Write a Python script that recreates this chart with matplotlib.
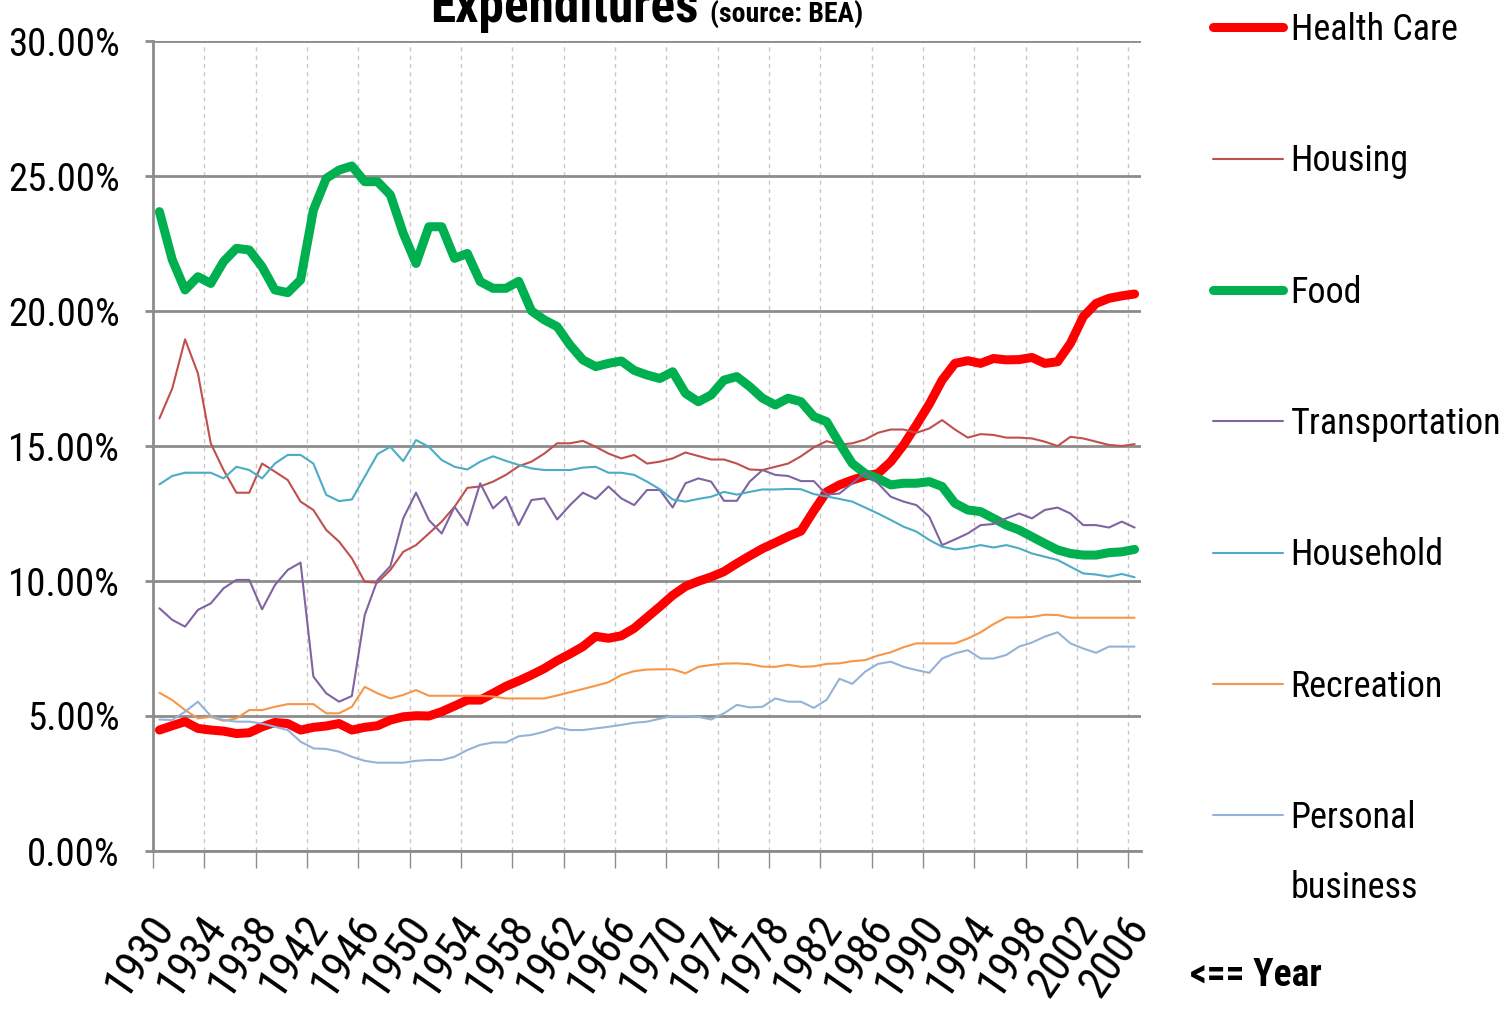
import matplotlib
matplotlib.use('Agg')
import matplotlib.pyplot as plt
from matplotlib import font_manager
from matplotlib.ticker import FixedLocator, FuncFormatter
from matplotlib.transforms import ScaledTranslation

years = list(range(1930, 2007))

health_care = [4.48, 4.64, 4.79, 4.54, 4.48, 4.44, 4.35, 4.38, 4.60, 4.76,
               4.72, 4.48, 4.58, 4.63, 4.72, 4.48, 4.58, 4.64, 4.85, 4.97,
               5.01, 5.00, 5.16, 5.37, 5.59, 5.59, 5.84, 6.10, 6.30, 6.52,
               6.76, 7.05, 7.30, 7.57, 7.95, 7.88, 7.97, 8.25, 8.65, 9.05,
               9.47, 9.80, 9.99, 10.15, 10.35, 10.65, 10.93, 11.20, 11.42, 11.65,
               11.85, 12.60, 13.30, 13.56, 13.74, 13.89, 13.98, 14.42, 15.04, 15.78,
               16.55, 17.44, 18.06, 18.16, 18.06, 18.24, 18.19, 18.20, 18.28, 18.06,
               18.12, 18.80, 19.79, 20.28, 20.47, 20.56, 20.63]

housing = [16.02, 17.13, 18.95, 17.69, 15.10, 14.11, 13.27, 13.27, 14.35, 14.05,
           13.74, 12.94, 12.63, 11.89, 11.46, 10.84, 9.97, 9.94, 10.41, 11.08,
           11.33, 11.76, 12.20, 12.75, 13.45, 13.50, 13.68, 13.93, 14.25, 14.42,
           14.72, 15.10, 15.10, 15.19, 14.97, 14.72, 14.54, 14.67, 14.35, 14.42,
           14.54, 14.76, 14.63, 14.50, 14.50, 14.35, 14.13, 14.11, 14.23, 14.35,
           14.62, 14.95, 15.18, 15.05, 15.10, 15.24, 15.49, 15.61, 15.61, 15.49,
           15.65, 15.96, 15.61, 15.31, 15.44, 15.41, 15.31, 15.31, 15.28, 15.16,
           15.00, 15.34, 15.28, 15.16, 15.04, 15.00, 15.07]

food = [23.68, 21.90, 20.78, 21.27, 21.02, 21.83, 22.32, 22.26, 21.64, 20.78,
        20.68, 21.15, 23.74, 24.91, 25.22, 25.37, 24.79, 24.79, 24.30, 22.88,
        21.76, 23.12, 23.12, 21.95, 22.13, 21.09, 20.84, 20.84, 21.10, 20.00,
        19.67, 19.42, 18.74, 18.19, 17.94, 18.06, 18.15, 17.80, 17.63, 17.50,
        17.75, 16.95, 16.64, 16.89, 17.44, 17.57, 17.20, 16.77, 16.52, 16.77,
        16.64, 16.09, 15.90, 15.10, 14.35, 13.98, 13.80, 13.56, 13.62, 13.62,
        13.68, 13.50, 12.88, 12.63, 12.57, 12.32, 12.07, 11.89, 11.64, 11.39,
        11.15, 11.02, 10.96, 10.96, 11.05, 11.08, 11.17]

transportation = [8.99, 8.56, 8.31, 8.93, 9.17, 9.73, 10.04, 10.04, 8.95, 9.85,
                  10.41, 10.68, 6.46, 5.84, 5.53, 5.74, 8.74, 10.04, 10.55, 12.32,
                  13.27, 12.26, 11.76, 12.75, 12.07, 13.62, 12.69, 13.12, 12.07, 13.00,
                  13.06, 12.28, 12.81, 13.27, 13.04, 13.50, 13.06, 12.81, 13.37, 13.37,
                  12.72, 13.62, 13.80, 13.68, 12.97, 12.97, 13.68, 14.11, 13.93, 13.89,
                  13.70, 13.70, 13.20, 13.24, 13.62, 14.00, 13.62, 13.12, 12.94, 12.81,
                  12.38, 11.33, 11.54, 11.76, 12.07, 12.11, 12.32, 12.50, 12.32, 12.63,
                  12.72, 12.50, 12.07, 12.07, 11.98, 12.20, 11.98]

household = [13.58, 13.89, 14.01, 14.01, 14.01, 13.80, 14.23, 14.11, 13.80, 14.35,
             14.67, 14.67, 14.35, 13.19, 12.96, 13.02, 13.86, 14.70, 14.97, 14.44,
             15.22, 14.97, 14.48, 14.23, 14.13, 14.42, 14.62, 14.45, 14.30, 14.17,
             14.11, 14.11, 14.11, 14.20, 14.23, 14.01, 14.01, 13.93, 13.68, 13.40,
             13.02, 12.94, 13.04, 13.12, 13.30, 13.20, 13.30, 13.39, 13.39, 13.41,
             13.40, 13.22, 13.13, 13.04, 12.94, 12.72, 12.50, 12.26, 12.01, 11.83,
             11.52, 11.27, 11.17, 11.23, 11.33, 11.24, 11.33, 11.21, 11.02, 10.90,
             10.78, 10.53, 10.28, 10.24, 10.16, 10.26, 10.14]

recreation = [5.86, 5.59, 5.22, 4.91, 4.97, 4.82, 4.91, 5.22, 5.22, 5.34,
              5.44, 5.44, 5.44, 5.10, 5.10, 5.34, 6.08, 5.84, 5.65, 5.78,
              5.96, 5.75, 5.75, 5.75, 5.75, 5.75, 5.72, 5.65, 5.65, 5.65,
              5.65, 5.76, 5.88, 6.00, 6.12, 6.25, 6.52, 6.66, 6.72, 6.73,
              6.73, 6.58, 6.82, 6.89, 6.94, 6.95, 6.92, 6.83, 6.82, 6.90,
              6.82, 6.84, 6.93, 6.95, 7.03, 7.07, 7.24, 7.36, 7.55, 7.69,
              7.69, 7.69, 7.69, 7.87, 8.10, 8.40, 8.65, 8.65, 8.67, 8.75,
              8.74, 8.64, 8.64, 8.64, 8.64, 8.64, 8.64]

personal_business = [4.87, 4.85, 5.16, 5.53, 5.00, 4.85, 4.79, 4.79, 4.72, 4.60,
                     4.48, 4.05, 3.80, 3.78, 3.68, 3.49, 3.34, 3.27, 3.27, 3.27,
                     3.34, 3.37, 3.37, 3.49, 3.74, 3.93, 4.02, 4.02, 4.25, 4.30,
                     4.42, 4.58, 4.48, 4.48, 4.54, 4.60, 4.67, 4.75, 4.79, 4.90,
                     5.00, 5.00, 4.97, 4.87, 5.10, 5.41, 5.32, 5.34, 5.65, 5.53,
                     5.53, 5.30, 5.60, 6.38, 6.19, 6.64, 6.93, 7.01, 6.82, 6.70,
                     6.60, 7.13, 7.32, 7.44, 7.13, 7.13, 7.26, 7.57, 7.72, 7.94,
                     8.10, 7.69, 7.50, 7.34, 7.57, 7.57, 7.57]

series_names = ['Health Care', 'Housing', 'Food', 'Transportation',
                'Household', 'Recreation', 'Personal']
series_colors = ['#FF0000', '#C0504D', '#00B050', '#8064A2',
                 '#4BACC6', '#F79646', '#95B3D7']
series_widths = [6.5, 1.5, 6.5, 1.5, 1.5, 1.5, 1.5]
series_data = [health_care, housing, food, transportation,
               household, recreation, personal_business]

y_ticks = [0, 5, 10, 15, 20, 25, 30]
label_years = list(range(1930, 2007, 4))

# ---- font choice (narrow font to mimic condensed look) ----
available = {f.name for f in font_manager.fontManager.ttflist}
FONT = 'DejaVu Sans'
for cand in ['Liberation Sans Narrow', 'DejaVu Sans Condensed', 'Roboto Condensed',
             'Open Sans Condensed', 'Liberation Sans']:
    if cand in available:
        FONT = cand
        break
plt.rcParams['font.family'] = [FONT, 'DejaVu Sans']

W, H = 1508, 1023
fig = plt.figure(figsize=(W / 100, H / 100), dpi=100)
L, R, T, B = 153, 1141, 41, 851
ax = fig.add_axes([L / W, 1 - B / H, (R - L) / W, (B - T) / H])

lines = []
for name, col, lw, data in zip(series_names, series_colors, series_widths, series_data):
    ln, = ax.plot(years, data, color=col, lw=lw, solid_joinstyle='round',
                  solid_capstyle='round', label=name)
    lines.append(ln)

ax.set_xlim(years[0] - 0.5, years[-1] + 0.5)
ax.set_ylim(0, 30)

grid_col = '#8c8c8c'
ax.set_yticks(y_ticks)
ax.yaxis.set_major_formatter(FuncFormatter(lambda v, p: f'{v:.2f}%'))
ax.yaxis.grid(True, color=grid_col, lw=2)
ax.tick_params(axis='y', length=6, width=2, color=grid_col, pad=18, labelsize=28)

ax.xaxis.set_major_locator(FixedLocator(label_years))
ax.xaxis.set_minor_locator(FixedLocator([y - 0.5 for y in label_years]))
ax.xaxis.grid(True, which='minor', color='#c8c8c8', lw=1, ls=(0, (3, 3)))
ax.tick_params(axis='x', which='major', length=0, pad=50, labelsize=32)
ax.tick_params(axis='x', which='minor', length=12, width=1, color=grid_col)
ax.set_axisbelow(True)
off = ScaledTranslation(6 / 100, 0, fig.dpi_scale_trans)
for lab in ax.get_xticklabels():
    lab.set_rotation(55)
    lab.set_ha('right')
    lab.set_va('center')
    lab.set_rotation_mode('anchor')
    lab.set_transform(lab.get_transform() + off)

for s in ['top', 'right']:
    ax.spines[s].set_visible(False)
for s in ['left', 'bottom']:
    ax.spines[s].set_color(grid_col)
    ax.spines[s].set_linewidth(2)

leg = ax.legend(handles=lines, loc='upper left',
                bbox_to_anchor=(1213 / W, 1 - 12 / H), bbox_transform=fig.transFigure,
                frameon=False, fontsize=26, handlelength=1.95, handletextpad=0.2,
                labelspacing=2.64, borderpad=0, borderaxespad=0)

fig.canvas.draw()
last = leg.get_texts()[-1]
bb = last.get_window_extent()
fig.text(bb.x0 / W, (bb.y0 + bb.y1) / 2 / H - 70 / H, 'business',
         fontsize=26, va='center', ha='left')

fig.text(1190 / W, 1 - 975 / H, '<== Year', fontsize=27, fontweight='bold', va='center')
fig.text(430 / W, 1 - 22 / H, 'Expenditures', fontsize=37, fontweight='bold', va='baseline')
fig.text(710 / W, 1 - 22 / H, '(source: BEA)', fontsize=20, fontweight='bold', va='baseline')

fig.savefig('out.png', dpi=100)
